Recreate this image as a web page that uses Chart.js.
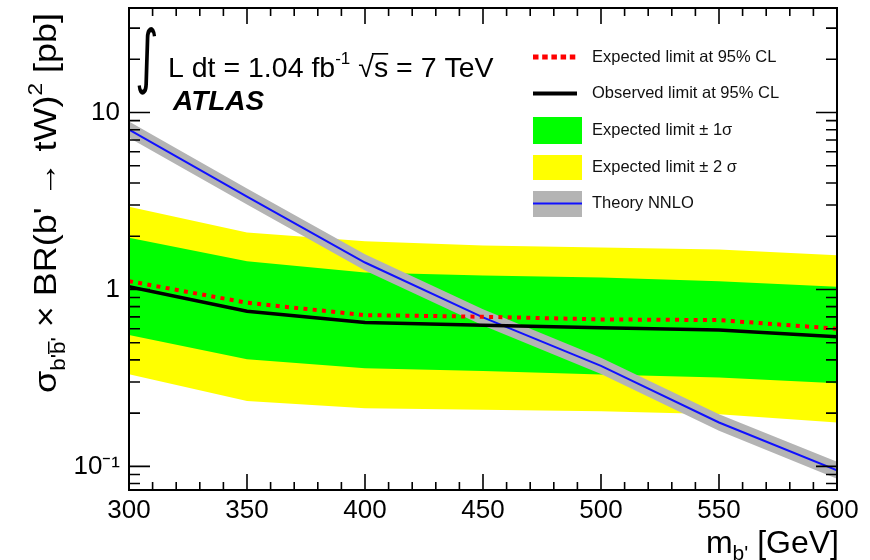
<!DOCTYPE html>
<html><head><meta charset="utf-8">
<script src="https://cdn.jsdelivr.net/npm/chart.js@4.4.1/dist/chart.umd.min.js"></script>
<style>html,body{margin:0;padding:0;background:#fff;}#wrap{width:870px;height:560px;position:relative;}</style>
</head><body><div id="wrap"><canvas id="c" width="870" height="560"></canvas></div>
<script>
// ---------- data ----------
const masses        = [300, 350, 400, 450, 500, 550, 600];
const observedLimit = [1.036, 0.754, 0.650, 0.628, 0.607, 0.590, 0.541];
const expectedLimit = [1.114, 0.841, 0.716, 0.701, 0.677, 0.671, 0.600];
const oneSigmaHi    = [1.957, 1.444, 1.247, 1.200, 1.169, 1.114, 1.036];
const oneSigmaLo    = [0.552, 0.403, 0.358, 0.346, 0.331, 0.318, 0.295];
const twoSigmaHi    = [2.93, 2.10, 1.87, 1.77, 1.725, 1.68, 1.56];
const twoSigmaLo    = [0.332, 0.234, 0.213, 0.209, 0.205, 0.197, 0.177];
const theoryNNLO    = [8.0, 3.35, 1.42, 0.695, 0.370, 0.177, 0.095];
const theoryHi      = [8.9, 3.72, 1.58, 0.772, 0.411, 0.197, 0.106];
const theoryLo      = [7.2, 3.02, 1.28, 0.625, 0.333, 0.159, 0.085];

const xMajorTicks = [300, 350, 400, 450, 500, 550, 600];
const xMinorTicks = [310,320,330,340,360,370,380,390,410,420,430,440,460,470,480,490,510,520,530,540,560,570,580,590];
const yMajorTicks = [0.1, 1, 10];
const yMinorTicks = [0.08,0.09,0.2,0.3,0.4,0.5,0.6,0.7,0.8,0.9,2,3,4,5,6,7,8,9,20,30];
const yTickLabels = {'0.1':'10\u207B\u00B9', '1':'1', '10':'10'};
const legendLabels = ['Expected limit at 95% CL','Observed limit at 95% CL','Expected limit \u00B1 1\u03C3','Expected limit \u00B1 2 \u03C3','Theory NNLO'];

const F = "'Liberation Sans', Arial, Helvetica, sans-serif";
const pts = arr => masses.map((m, i) => ({x: m, y: arr[i]}));

// ---------- plugins ----------
const framePlugin = {
  id: 'frame',
  afterDatasetsDraw(chart) {
    const {ctx, chartArea: a, scales: {x, y}} = chart;
    ctx.save();
    ctx.strokeStyle = '#000';
    ctx.lineWidth = 1.6;
    ctx.beginPath();
    const xt = (v, L) => { const p = x.getPixelForValue(v);
      ctx.moveTo(p, a.bottom); ctx.lineTo(p, a.bottom - L);
      ctx.moveTo(p, a.top); ctx.lineTo(p, a.top + L); };
    const yt = (v, L) => { const p = y.getPixelForValue(v);
      ctx.moveTo(a.left, p); ctx.lineTo(a.left + L, p);
      ctx.moveTo(a.right, p); ctx.lineTo(a.right - L, p); };
    xMajorTicks.forEach(v => xt(v, 16));
    xMinorTicks.forEach(v => xt(v, 8));
    yMajorTicks.forEach(v => yt(v, 21));
    yMinorTicks.forEach(v => yt(v, 11));
    ctx.stroke();
    ctx.lineWidth = 2;
    ctx.strokeRect(a.left, a.top, a.right - a.left, a.bottom - a.top);
    ctx.restore();
  }
};

const textPlugin = {
  id: 'texts',
  afterDraw(chart) {
    const ctx = chart.ctx;
    ctx.save();
    ctx.fillStyle = '#000';
    ctx.textBaseline = 'alphabetic';
    ctx.textAlign = 'left';

    // ----- legend -----
    const sx0 = 533, sx1 = 582, tx = 592;
    const rowsY = [57, 93.5, 130.5, 167.5, 203.5];
    ctx.fillStyle = '#ff0000';
    for (let i = 0; i < 5; i++) ctx.fillRect(sx0 + i * 9.2, rowsY[0] - 2.5, 5.5, 5);
    ctx.fillStyle = '#000';
    ctx.fillRect(sx0, rowsY[1] - 2, sx1 - sx0 - 5, 4);
    ctx.fillStyle = '#00ff00';
    ctx.fillRect(sx0, 117, sx1 - sx0, 27);
    ctx.fillStyle = '#ffff00';
    ctx.fillRect(sx0, 155, sx1 - sx0, 25);
    ctx.fillStyle = '#b4b4b4';
    ctx.fillRect(sx0, 191, sx1 - sx0, 26);
    ctx.fillStyle = '#1010ff';
    ctx.fillRect(sx0, rowsY[4] - 1, sx1 - sx0, 2);
    ctx.fillStyle = '#111';
    ctx.font = `16.5px ${F}`;
    ctx.textBaseline = 'middle';
    legendLabels.forEach((t, i) => ctx.fillText(t, tx, rowsY[i]));
    ctx.textBaseline = 'alphabetic';

    // ----- luminosity annotation -----
    ctx.fillStyle = '#000';
    ctx.save();
    ctx.translate(135, 80);
    ctx.scale(0.65, 1);
    ctx.font = `70px 'DejaVu Sans', ${F}`;
    ctx.fillText('\u222B', 0, 0);
    ctx.restore();
    let cx = 168;
    const seg = (t, size, dy, base, style = '') => {
      ctx.font = `${style} ${size}px ${F}`;
      ctx.fillText(t, cx, base + dy);
      const w = ctx.measureText(t).width; cx += w; return w;
    };
    seg('L dt = 1.04 fb', 28.5, 0, 77);
    seg('-1', 17, -13, 77);
    cx += 8;
    seg('\u221A', 28.5, 0, 77);
    const sStart = cx;
    const sw = seg('s', 28.5, 0, 77);
    ctx.fillRect(sStart - 2, 77 - 24, sw + 2, 1.6);
    seg(' = 7 TeV', 28.5, 0, 77);

    // ATLAS
    ctx.font = `italic bold 28px ${F}`;
    ctx.fillText('ATLAS', 173, 110);

    // ----- x title -----
    const xParts = [['m', 32, 0], ["b'", 21, 7], [' [GeV]', 32, 0]];
    let tw = 0;
    xParts.forEach(p => { ctx.font = `${p[1]}px ${F}`; tw += ctx.measureText(p[0]).width; });
    cx = 839 - tw;
    xParts.forEach(p => seg(p[0], p[1], p[2], 553));

    // ----- y title (rotated) -----
    ctx.translate(56, 393);
    ctx.rotate(-Math.PI / 2);
    const yParts = [['\u03C3', 32, 0], ["b'", 20, 9], ['b', 20, 9, 'bar'], ["'", 20, 9],
                    [' \u00D7 BR(b\' \u2192 tW)', 32, 0], ['2', 20, -14], [' [pb]', 32, 0]];
    tw = 0;
    yParts.forEach(p => { ctx.font = `${p[1]}px ${F}`; tw += ctx.measureText(p[0]).width; });
    const k = 380 / tw;
    ctx.scale(k, 1);
    cx = 0;
    yParts.forEach(p => {
      const s0 = cx;
      const w = seg(p[0], p[1], p[2], 0);
      if (p[3] === 'bar') ctx.fillRect(s0, p[2] - 17, w, 1.5);
    });
    ctx.restore();
  }
};

// ---------- chart ----------
const line = (data, color, width, order, extra = {}) => Object.assign({
  data: pts(data), borderColor: color, borderWidth: width, pointRadius: 0,
  tension: 0, fill: false, order
}, extra);

const noPad = s => { s.paddingTop = 0; s.paddingBottom = 0; s.paddingLeft = 0; s.paddingRight = 0; };

new Chart(document.getElementById('c'), {
  type: 'line',
  data: {
    datasets: [
      line(observedLimit, '#000000', 3.5, 0),
      line(expectedLimit, '#ff0000', 4, 1, {borderDash: [4, 5.3]}),
      line(theoryNNLO, '#1010ff', 2, 2),
      line(theoryHi, 'transparent', 0, 3, {fill: {target: 4}, backgroundColor: '#b4b4b4'}),
      line(theoryLo, 'transparent', 0, 4),
      line(oneSigmaHi, 'transparent', 0, 5, {fill: {target: 6}, backgroundColor: '#00ff00'}),
      line(oneSigmaLo, 'transparent', 0, 6),
      line(twoSigmaHi, 'transparent', 0, 7, {fill: {target: 8}, backgroundColor: '#ffff00'}),
      line(twoSigmaLo, 'transparent', 0, 8)
    ]
  },
  options: {
    responsive: false,
    animation: false,
    devicePixelRatio: 1,
    layout: {padding: {top: 8, right: 33, left: 0, bottom: 0}},
    plugins: {legend: {display: false}, tooltip: {enabled: false}},
    scales: {
      x: {
        type: 'linear', min: 300, max: 600,
        afterFit: s => { s.height = 70; noPad(s); },
        grid: {display: false, drawTicks: false},
        border: {display: false},
        afterBuildTicks: s => { s.ticks = xMajorTicks.map(v => ({value: v})); },
        ticks: {color: '#000', font: {family: F, size: 26}, padding: 5, maxRotation: 0, autoSkip: false}
      },
      y: {
        type: 'logarithmic', min: 0.0735, max: 39,
        afterFit: s => { s.width = 129; noPad(s); },
        grid: {display: false, drawTicks: false},
        border: {display: false},
        afterBuildTicks: s => { s.ticks = yMajorTicks.map(v => ({value: v})); },
        ticks: {color: '#000', font: {family: F, size: 26}, padding: 9, autoSkip: false,
                callback: v => yTickLabels[String(v)] ?? ''}
      }
    }
  },
  plugins: [framePlugin, textPlugin]
});
</script></body></html>
